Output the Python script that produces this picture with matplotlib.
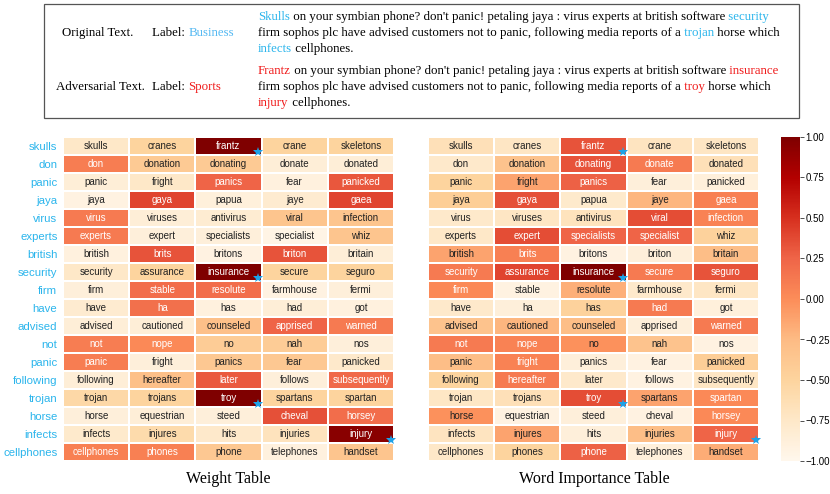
import numpy as np
import matplotlib.pyplot as plt
from matplotlib.patches import Rectangle

plt.rcParams['font.family'] = ['Liberation Sans', 'DejaVu Sans']

# rows = original words, columns = candidate substitutes
rows = ['skulls', 'don', 'panic', 'jaya', 'virus', 'experts', 'british', 'security', 'firm',
        'have', 'advised', 'not', 'panic', 'following', 'trojan', 'horse', 'infects', 'cellphones']

words = [
    ['skulls', 'cranes', 'frantz', 'crane', 'skeletons'],
    ['don', 'donation', 'donating', 'donate', 'donated'],
    ['panic', 'fright', 'panics', 'fear', 'panicked'],
    ['jaya', 'gaya', 'papua', 'jaye', 'gaea'],
    ['virus', 'viruses', 'antivirus', 'viral', 'infection'],
    ['experts', 'expert', 'specialists', 'specialist', 'whiz'],
    ['british', 'brits', 'britons', 'briton', 'britain'],
    ['security', 'assurance', 'insurance', 'secure', 'seguro'],
    ['firm', 'stable', 'resolute', 'farmhouse', 'fermi'],
    ['have', 'ha', 'has', 'had', 'got'],
    ['advised', 'cautioned', 'counseled', 'apprised', 'warned'],
    ['not', 'nope', 'no', 'nah', 'nos'],
    ['panic', 'fright', 'panics', 'fear', 'panicked'],
    ['following', 'hereafter', 'later', 'follows', 'subsequently'],
    ['trojan', 'trojans', 'troy', 'spartans', 'spartan'],
    ['horse', 'equestrian', 'steed', 'cheval', 'horsey'],
    ['infects', 'injures', 'hits', 'injuries', 'injury'],
    ['cellphones', 'phones', 'phone', 'telephones', 'handset'],
]

weight = [
    [-0.75, -0.50, 1.00, -0.50, -0.50],
    [0.10, -0.40, -0.40, -0.85, -0.85],
    [-0.85, -0.75, 0.25, -0.90, 0.32],
    [-0.92, 0.40, -0.88, -0.80, 0.40],
    [0.12, -0.85, -0.82, -0.35, -0.35],
    [0.12, -0.87, -0.87, -0.95, -0.35],
    [-0.90, 0.33, -0.92, 0.33, -0.85],
    [-0.75, -0.50, 1.00, -0.50, -0.50],
    [-0.87, 0.20, 0.20, -0.92, -0.87],
    [-0.80, 0.18, -0.90, -0.85, -0.90],
    [-0.85, -0.85, -0.30, 0.25, 0.12],
    [0.10, 0.03, -0.42, -0.42, -0.87],
    [0.10, -0.87, -0.38, -0.38, -0.77],
    [-0.85, -0.30, 0.30, -0.87, 0.22],
    [-0.55, -0.50, 1.00, -0.50, -0.50],
    [-0.87, -0.85, -0.87, 0.35, 0.20],
    [-0.78, -0.58, -0.77, -0.68, 0.95],
    [0.08, 0.08, -0.38, -0.90, -0.35],
]

importance = [
    [-0.65, -0.72, 0.33, -0.70, -0.72],
    [-0.77, -0.33, 0.33, 0.12, -0.65],
    [-0.50, -0.12, 0.27, -0.87, -0.88],
    [-0.43, 0.35, -0.78, -0.22, 0.08],
    [-0.77, -0.72, -0.68, 0.36, 0.07],
    [-0.75, 0.36, 0.25, 0.25, -0.48],
    [-0.12, 0.08, -0.92, -0.87, -0.28],
    [0.12, 0.40, 1.00, 0.12, 0.33],
    [0.03, -0.92, -0.18, -0.77, -0.72],
    [-0.77, -0.87, -0.48, 0.12, -0.88],
    [-0.33, -0.22, -0.28, -0.87, 0.12],
    [0.12, 0.07, -0.02, -0.33, -0.92],
    [-0.28, 0.07, -0.87, -0.92, -0.43],
    [-0.50, 0.12, -0.77, -0.92, -0.72],
    [-0.73, -0.65, 0.36, -0.12, 0.03],
    [-0.02, -0.92, -0.87, -0.92, 0.03],
    [-0.70, -0.12, -0.87, -0.28, 0.25],
    [-0.75, -0.50, 0.27, -0.88, -0.17],
]

# chosen adversarial substitutes (row, column)
picked = [(0, 2), (7, 2), (14, 2), (16, 4)]

blue = '#2bb5ec'
red = '#f01c1c'
star_c = '#1ea1e6'

orig_lines = [
    [('Skulls', blue), (' on your symbian phone? don\'t panic! petaling jaya : virus experts at british software', 'k'), (' security', blue)],
    [('firm sophos plc have advised customers not to panic, following media reports of a', 'k'), (' trojan', blue), (' horse which', 'k')],
    [('infects', blue), (' cellphones.', 'k')],
]
adv_lines = [
    [('Frantz', red), (' on your symbian phone? don\'t panic! petaling jaya : virus experts at british software', 'k'), (' insurance', red)],
    [('firm sophos plc have advised customers not to panic, following media reports of a', 'k'), (' troy', red), (' horse which', 'k')],
    [('injury', red), (' cellphones.', 'k')],
]

W, H = 830, 494
fig = plt.figure(figsize=(8.3, 4.94), dpi=100)
renderer = fig.canvas.get_renderer()

serif = dict(family='Liberation Serif', fontsize=9.3, va='center')


def width_px(s):
    t = fig.text(0, 0, '|' + s + '|', **serif)
    w1 = t.get_window_extent(renderer).width
    t.remove()
    t = fig.text(0, 0, '||', **serif)
    w2 = t.get_window_extent(renderer).width
    t.remove()
    return w1 - w2


def line(x, y, segs):
    for s, c in segs:
        fig.text(x / W, 1 - y / H, s, color=c, ha='left', **serif)
        x += width_px(s)


# top box
fig.patches.append(Rectangle((44 / W, 1 - 118 / H), 755 / W, 114 / H, transform=fig.transFigure,
                             fill=False, edgecolor='#555555', linewidth=0.9))
fig.text(98 / W, 1 - 33 / H, 'Original Text.', ha='center', **serif)
line(152, 33, [('Label: ', 'k'), ('Business', '#55b9f2')])
fig.text(100 / W, 1 - 87 / H, 'Adversarial Text.', ha='center', **serif)
line(152, 87, [('Label: ', 'k'), ('Sports', red)])
for i, segs in enumerate(orig_lines):
    line(258, 17 + 16 * i, segs)
for i, segs in enumerate(adv_lines):
    line(258, 71 + 16 * i, segs)


def table(ax, vals):
    vals = np.array(vals)
    mesh = ax.pcolormesh(vals, cmap='OrRd', vmin=-1, vmax=1, edgecolors='#ffffff', linewidth=0.2)
    ax.set_xlim(0, 5)
    ax.set_ylim(len(rows), 0)
    for i in range(len(rows)):
        for j in range(5):
            c = 'white' if vals[i, j] > 0 else '#222222'
            ax.text(j + 0.5, i + 0.5, words[i][j], ha='center', va='center', fontsize=7, color=c)
    for r, c in picked:
        ax.plot(c + 1 - 0.05, r + 1 - 0.17, marker='*', color=star_c, markersize=7,
                markeredgewidth=0, clip_on=False)
    ax.set_xticks([])
    for s in ax.spines.values():
        s.set_visible(False)
    return mesh


bottom = 1 - 461 / H
height = 324 / H
ax1 = fig.add_axes([63 / W, bottom, 331 / W, height])
table(ax1, weight)
ax1.set_yticks(np.arange(len(rows)) + 0.5)
ax1.set_yticklabels(rows, color=blue, fontsize=8.2)
ax1.tick_params(axis='y', length=0, pad=4)

ax2 = fig.add_axes([428 / W, bottom, 331 / W, height])
m = table(ax2, importance)
ax2.set_yticks([])

cax = fig.add_axes([781 / W, bottom, 19 / W, height])
ticks = [-1, -0.75, -0.5, -0.25, 0, 0.25, 0.5, 0.75, 1]
cb = fig.colorbar(m, cax=cax, ticks=ticks)
cb.outline.set_visible(False)
cb.ax.set_yticklabels([('%.2f' % t).replace('-', '\u2212') for t in ticks])
cb.ax.tick_params(labelsize=7, length=3, width=0.6, color='#333333', pad=1)

fig.text(228 / W, 1 - 479 / H, 'Weight Table', ha='center', va='center',
         family='Liberation Serif', fontsize=11.5)
fig.text(594 / W, 1 - 479 / H, 'Word Importance Table', ha='center', va='center',
         family='Liberation Serif', fontsize=11.5)

fig.savefig('out.png', dpi=100)
